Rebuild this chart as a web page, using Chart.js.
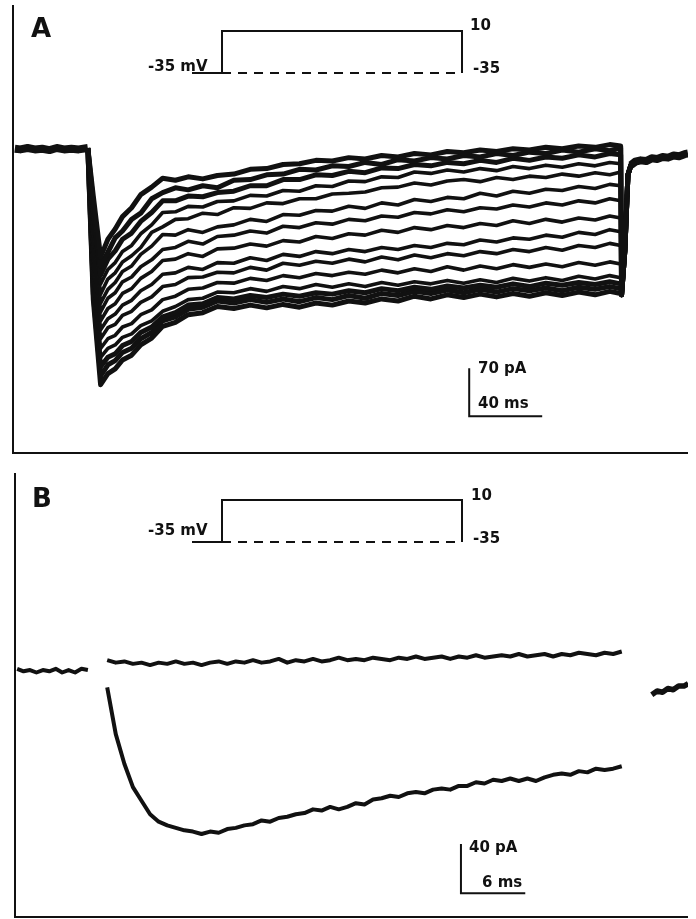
<!DOCTYPE html>
<html>
<head>
<meta charset="utf-8">
<script src="https://cdn.jsdelivr.net/npm/chart.js@4.4.0/dist/chart.umd.min.js"></script>
<style>
  body { margin: 0; background: #fff; }
  #wrap { position: relative; width: 696px; height: 919px; overflow: hidden; background: #fff; }
  canvas { position: absolute; left: 0; }
  #chartA { top: 0; width: 696px; height: 460px; }
  #chartB { top: 460px; width: 696px; height: 459px; }
  .lbl { position: absolute; font-family: "DejaVu Sans", sans-serif; font-weight: bold;
         font-size: 15px; line-height: 1; color: #111; white-space: nowrap; }
  .panel { font-size: 26px; }
</style>
</head>
<body>
<div id="wrap">
  <canvas id="chartA" width="696" height="460"></canvas>
  <canvas id="chartB" width="696" height="459"></canvas>

  <div class="lbl panel" style="left:31px;top:15px">A</div>
  <div class="lbl" style="left:148px;top:59px">-35 mV</div>
  <div class="lbl" style="left:470px;top:18px">10</div>
  <div class="lbl" style="left:473px;top:61px">-35</div>
  <div class="lbl" style="left:478px;top:361px">70 pA</div>
  <div class="lbl" style="left:478px;top:396px">40 ms</div>

  <div class="lbl panel" style="left:32px;top:485px">B</div>
  <div class="lbl" style="left:148px;top:523px">-35 mV</div>
  <div class="lbl" style="left:471px;top:488px">10</div>
  <div class="lbl" style="left:473px;top:531px">-35</div>
  <div class="lbl" style="left:469px;top:840px">40 pA</div>
  <div class="lbl" style="left:482px;top:875px">6 ms</div>
</div>
<script>
// ---- Panel A: family of current sweeps (ms, pA) ----
const preTimeA = [1, 4, 8, 12, 16, 20, 24, 28, 32, 36, 41];
const preCurrentA = [-1, -2, 0, -2, -1, -3, 0, -2, -1, -2, 0];

const stepTimeA = [41, 44, 48, 52, 56, 60, 65, 70, 76, 82, 89, 96, 104, 112, 121, 130, 139, 148, 157, 166,
  175, 184, 193, 202, 211, 220, 229, 238, 247, 256, 265, 274, 283, 292, 301, 310, 319, 327, 333];

const sweepA1 = [0, -70, -159, -133, -118, -100, -87, -68, -57, -44, -47, -42, -45, -40, -38, -31, -30, -24, -23, -18,
  -19, -14, -16, -11, -13, -8, -10, -5, -7, -3, -5, -1, -3, 1, -1, 3, 1, 5, 3];
const sweepA2 = [0, -81, -172, -152, -131, -121, -104, -95, -74, -65, -58, -61, -55, -58, -47, -46, -39, -38, -31, -32,
  -26, -27, -21, -24, -17, -19, -14, -16, -11, -13, -8, -11, -6, -8, -3, -6, -1, -4, 0];
const sweepA3 = [0, -91, -185, -162, -150, -133, -124, -107, -94, -77, -77, -70, -71, -65, -63, -55, -55, -46, -46, -39,
  -40, -34, -36, -29, -30, -24, -26, -21, -23, -18, -21, -15, -18, -13, -15, -10, -13, -8, -10];
const sweepA4 = [0, -101, -198, -177, -167, -151, -142, -125, -112, -94, -93, -85, -86, -78, -77, -69, -70, -62, -63, -55,
  -56, -48, -49, -42, -43, -35, -37, -32, -35, -30, -33, -27, -30, -25, -28, -23, -26, -21, -23];
const sweepA5 = [0, -113, -213, -191, -182, -166, -157, -145, -123, -115, -104, -103, -95, -97, -87, -88, -80, -81, -74, -74,
  -67, -66, -64, -58, -57, -51, -54, -48, -46, -49, -43, -46, -41, -43, -38, -41, -36, -39, -35];
const sweepA6 = [0, -124, -226, -206, -196, -180, -172, -155, -143, -126, -127, -119, -123, -115, -112, -104, -107, -97, -98, -91,
  -92, -85, -88, -80, -83, -75, -78, -72, -74, -66, -70, -63, -66, -60, -62, -56, -59, -53, -55];
const sweepA7 = [0, -136, -239, -219, -211, -195, -188, -173, -163, -148, -145, -136, -140, -129, -127, -121, -124, -114, -116, -109,
  -111, -104, -106, -99, -101, -94, -96, -90, -93, -87, -89, -83, -86, -80, -83, -77, -80, -74, -77];
const sweepA8 = [0, -149, -252, -234, -227, -212, -205, -190, -180, -164, -162, -154, -158, -147, -146, -140, -143, -135, -137, -129,
  -132, -125, -127, -120, -123, -116, -119, -113, -116, -110, -113, -106, -110, -104, -108, -102, -105, -99, -102];
const sweepA9 = [0, -159, -265, -249, -242, -229, -222, -208, -199, -184, -182, -174, -177, -167, -168, -160, -164, -155, -158, -151,
  -154, -148, -151, -145, -148, -142, -145, -139, -141, -134, -137, -131, -133, -127, -130, -123, -126, -119, -122];
const sweepA10 = [0, -170, -278, -262, -257, -244, -238, -225, -217, -202, -199, -189, -188, -181, -182, -174, -178, -168, -171, -165,
  -168, -162, -166, -159, -163, -156, -160, -154, -157, -151, -154, -148, -151, -145, -149, -142, -145, -139, -142];
const sweepA11 = [0, -181, -292, -278, -273, -261, -256, -243, -236, -221, -216, -206, -204, -196, -197, -190, -193, -186, -189, -183,
  -186, -181, -184, -178, -182, -176, -180, -173, -178, -172, -176, -170, -174, -169, -173, -167, -171, -166, -169];
const sweepA12 = [0, -189, -305, -292, -287, -276, -271, -259, -252, -238, -231, -221, -219, -210, -211, -205, -209, -202, -205, -199,
  -203, -198, -202, -196, -200, -195, -198, -193, -197, -192, -196, -190, -194, -189, -193, -187, -191, -186, -189];
const sweepA13 = [0, -201, -319, -305, -300, -288, -282, -269, -261, -246, -240, -229, -227, -218, -220, -215, -218, -213, -216, -211,
  -213, -208, -211, -205, -208, -203, -206, -201, -204, -200, -203, -198, -202, -197, -200, -196, -199, -195, -198];
const sweepA14 = [0, -212, -332, -316, -310, -298, -292, -278, -269, -252, -246, -235, -232, -223, -226, -221, -225, -220, -224, -218,
  -221, -215, -219, -212, -215, -209, -212, -207, -211, -206, -210, -205, -208, -204, -208, -203, -206, -202, -205];
const sweepA15 = [0, -221, -345, -329, -322, -309, -302, -287, -277, -260, -254, -243, -240, -231, -234, -229, -233, -228, -232, -226,
  -229, -223, -226, -220, -223, -216, -220, -214, -218, -213, -217, -212, -216, -211, -215, -210, -214, -209, -212];

// tail current after the step (same for all sweeps)
const tailTimeA = [333.5, 335.3, 336.4, 337, 338.6, 341];
const tailCurrentA = [-214, -149, -76, -39, -25, -20];

const postTimeA = [338.6, 341, 344, 347, 350, 353, 356, 359, 362, 365, 368, 369.9];
const postCurrentA = [-25, -20, -18, -19, -15, -16, -13, -14, -11, -12, -9, -8];

// scale bar A: 70 pA / 40 ms
const barTimeA = [250, 250, 290];
const barCurrentA = [-321, -391, -391];

// ---- Panel B: control and inward current (ms, pA) ----
const preTimeB = [0.2, 0.8, 1.4, 2.0, 2.6, 3.2, 3.8, 4.4, 5.0, 5.6, 6.2, 6.8];
const preCurrentB = [1, -1, 0, -2, 0, -1, 1, -2, 0, -2, 1, 0];

const stepTimeB = [8.6, 9.4, 10.2, 11.0, 11.8, 12.6, 13.4, 14.2, 15.0, 15.8, 16.6, 17.4, 18.2, 19.0, 19.8, 20.6,
  21.4, 22.2, 23.0, 23.8, 24.6, 25.4, 26.2, 27.0, 27.8, 28.6, 29.4, 30.2, 31.0, 31.8, 32.6, 33.4, 34.2, 35.0,
  35.8, 36.6, 37.4, 38.2, 39.0, 39.8, 40.6, 41.4, 42.2, 43.0, 43.8, 44.6, 45.4, 46.2, 47.0, 47.8, 48.6, 49.4,
  50.2, 51.0, 51.8, 52.6, 53.4, 54.2, 55.0, 55.8, 56.6];
const controlB = [8, 6, 7, 5, 6, 4, 6, 5, 7, 5, 6, 4, 6, 7, 5, 7, 6, 8, 6, 7, 9, 6, 8, 7, 9, 7, 8, 10, 8, 9,
  8, 10, 9, 8, 10, 9, 11, 9, 10, 11, 9, 11, 10, 12, 10, 11, 12, 11, 13, 11, 12, 13, 11, 13, 12, 14, 13, 12, 14, 13, 15];
const inwardB = [-14, -52, -76, -95, -106, -117, -123, -126, -128, -130, -131, -133, -131, -132, -129, -128, -126, -125,
  -122, -123, -120, -119, -117, -116, -113, -114, -111, -113, -111, -108, -109, -105, -104, -102, -103, -100, -99,
  -100, -97, -96, -97, -94, -94, -91, -92, -89, -90, -88, -90, -88, -90, -87, -85, -84, -85, -82, -83, -80, -81, -80, -78];

const postTimeB = [59.4, 59.9, 60.4, 60.9, 61.4, 61.9, 62.4, 62.8];
const postCurrentB = [-20, -17, -18, -15, -16, -13, -13, -11];

// scale bar B: 40 pA / 6 ms
const barTimeB = [41.6, 41.6, 47.6];
const barCurrentB = [-141, -181, -181];

// ---- voltage protocol (schematic time units, mV) ----
const protoTime = [0, 10, 10, 90, 90];
const protoVolt = [-35, -35, 10, 10, -35];
const holdTime = [10, 90];
const holdVolt = [-35, -35];

const INK = '#111';

function pts(xs, ys) {
  return xs.map((x, i) => ({ x: x, y: ys[i] }));
}

function line(data, width, extra) {
  return Object.assign({
    data: data,
    borderColor: INK,
    borderWidth: width,
    pointRadius: 0,
    tension: 0,
    fill: false,
    borderJoinStyle: 'round',
    xAxisID: 'x',
    yAxisID: 'y'
  }, extra || {});
}

// L-shaped frame on the left and bottom of the plot area
const framePlugin = {
  id: 'frame',
  afterDraw(chart) {
    const { ctx, chartArea: a } = chart;
    ctx.save();
    ctx.strokeStyle = INK;
    ctx.lineWidth = 2;
    ctx.beginPath();
    ctx.moveTo(a.left, a.top);
    ctx.lineTo(a.left, a.bottom);
    ctx.lineTo(a.right, a.bottom);
    ctx.stroke();
    ctx.restore();
  }
};

function makeChart(id, datasets, padding, scales) {
  const hidden = s => Object.assign({ type: 'linear', display: false }, s);
  return new Chart(document.getElementById(id), {
    type: 'line',
    data: { datasets: datasets },
    options: {
      responsive: false,
      maintainAspectRatio: false,
      animation: false,
      events: [],
      layout: { padding: padding },
      plugins: { legend: { display: false }, tooltip: { enabled: false } },
      scales: {
        x: hidden(scales.x),
        y: hidden(scales.y),
        xv: hidden(scales.xv),
        yv: hidden(scales.yv)
      }
    },
    plugins: [framePlugin]
  });
}

// Панель A
const sweepsA = [sweepA1, sweepA2, sweepA3, sweepA4, sweepA5, sweepA6, sweepA7, sweepA8,
  sweepA9, sweepA10, sweepA11, sweepA12, sweepA13, sweepA14, sweepA15];
const dsA = [line(pts(preTimeA, preCurrentA), 8)];
sweepsA.forEach((s, i) => {
  // the outer sweeps overlap into thick bands, so draw them heavier
  const w = (i < 3 || i > 11) ? 5 : 3.6;
  dsA.push(line(pts(stepTimeA.concat(tailTimeA), s.concat(tailCurrentA)), w));
});
dsA.push(line(pts(postTimeA, postCurrentA), 8));
dsA.push(line(pts(barTimeA, barCurrentA), 2, { borderJoinStyle: 'miter' }));
dsA.push(line(pts(protoTime, protoVolt), 2, { xAxisID: 'xv', yAxisID: 'yv', borderJoinStyle: 'miter' }));
dsA.push(line(pts(holdTime, holdVolt), 2, { xAxisID: 'xv', yAxisID: 'yv', borderDash: [9, 7] }));

makeChart('chartA', dsA, { left: 13, top: 5, right: 8, bottom: 7 }, {
  x: { min: 0, max: 369.9 },
  y: { min: -444.6, max: 208.5 },
  xv: { min: -59.67, max: 165.33 },
  yv: { min: -442.1, max: 37.86 }
});

// Панель B
const dsB = [
  line(pts(preTimeB, preCurrentB), 4),
  line(pts(stepTimeB, controlB), 4),
  line(pts(stepTimeB, inwardB), 4),
  line(pts(postTimeB, postCurrentB), 5.5),
  line(pts(barTimeB, barCurrentB), 2, { borderJoinStyle: 'miter' }),
  line(pts(protoTime, protoVolt), 2, { xAxisID: 'xv', yAxisID: 'yv', borderJoinStyle: 'miter' }),
  line(pts(holdTime, holdVolt), 2, { xAxisID: 'xv', yAxisID: 'yv', borderDash: [9, 7] })
];

makeChart('chartB', dsB, { left: 15, top: 13, right: 8, bottom: 2 }, {
  x: { min: 0, max: 62.78 },
  y: { min: -200.3, max: 159.8 },
  xv: { min: -59, max: 165.33 },
  yv: { min: -436.8, max: 38.93 }
});
</script>
</body>
</html>
